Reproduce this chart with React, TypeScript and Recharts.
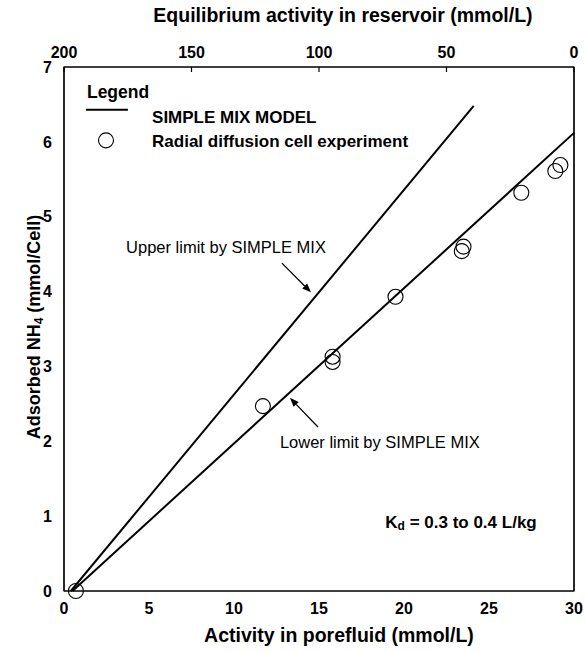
import React from "react";
import {
  ComposedChart,
  Line,
  Scatter,
  XAxis,
  YAxis,
  ReferenceLine,
  ReferenceDot,
  ReferenceArea,
  Label,
} from "recharts";

const FONT = '"Liberation Sans", Arial, Helvetica, sans-serif';

// experiment points (activity in porefluid vs adsorbed NH4)
const porefluid: number[] = [0.7, 11.7, 15.8, 15.8, 19.5, 23.4, 23.5, 26.9, 28.9, 29.2];
const adsorbed: number[] = [0, 2.47, 3.13, 3.06, 3.93, 4.54, 4.6, 5.32, 5.61, 5.69];

// SIMPLE MIX limits
const upperX: number[] = [0.4, 24.1];
const upperY: number[] = [0, 6.48];
const lowerX: number[] = [0.5, 30];
const lowerY: number[] = [0, 6.12];

const bottomTicks: number[] = [0, 5, 10, 15, 20, 25, 30];
const topTicks: number[] = [0, 50, 100, 150, 200];
const yTicks: number[] = [0, 1, 2, 3, 4, 5, 6, 7];

const points = porefluid.map((x, i) => ({ x, y: adsorbed[i] }));
const upper = upperX.map((x, i) => ({ x, y: upperY[i] }));
const lower = lowerX.map((x, i) => ({ x, y: lowerY[i] }));

const tickStyle = { fontFamily: FONT, fontSize: 16, fontWeight: 700, fill: "#000" };

const Ring = (p: any) => (
  <circle cx={p.cx} cy={p.cy} r={7.5} fill="none" stroke="#000" strokeWidth={1.1} />
);

const Nothing = () => null;

const Arrow = (p: any) => {
  const { x1, y1, x2, y2 } = p;
  const a = Math.atan2(y2 - y1, x2 - x1);
  const len = 9;
  const w = 3.5;
  const bx = x2 - len * Math.cos(a);
  const by = y2 - len * Math.sin(a);
  const pts = [
    `${x2},${y2}`,
    `${bx + w * Math.sin(a)},${by - w * Math.cos(a)}`,
    `${bx - w * Math.sin(a)},${by + w * Math.cos(a)}`,
  ].join(" ");
  return (
    <g>
      <line x1={x1} y1={y1} x2={bx} y2={by} stroke="#000" strokeWidth={1.3} />
      <polygon points={pts} fill="#000" />
    </g>
  );
};

const note = (value: React.ReactNode, size: number, bold: boolean) => (p: any) => (
  <text
    x={p.cx}
    y={p.cy}
    dominantBaseline="central"
    fontFamily={FONT}
    fontSize={size}
    fontWeight={bold ? 700 : 400}
    fill="#000"
  >
    {value}
  </text>
);

const Segment = (p: any) => (
  <line x1={p.x1} y1={p.y1} x2={p.x2} y2={p.y2} stroke="#000" strokeWidth={2} />
);

const App: React.FC = () => {
  return (
    <div style={{ position: "absolute", left: 0, top: 0, background: "#fff" }}>
      <ComposedChart width={585} height={652} margin={{ top: 0, right: 0, bottom: 0, left: 0 }}>
        <XAxis
          xAxisId="bottom"
          type="number"
          dataKey="x"
          domain={[0, 30]}
          ticks={bottomTicks}
          height={61}
          tickLine={false}
          tickSize={0}
          tickMargin={12}
          axisLine={{ stroke: "#000", strokeWidth: 1.2 }}
          tick={tickStyle}
          interval={0}
        >
          <Label
            content={(p: any) => (
              <text
                x={p.viewBox.x + p.viewBox.width / 2 + 20}
                y={642}
                textAnchor="middle"
                fontFamily={FONT}
                fontSize={19.5}
                fontWeight={700}
                fill="#000"
              >
                Activity in porefluid (mmol/L)
              </text>
            )}
          />
        </XAxis>
        <XAxis
          xAxisId="top"
          orientation="top"
          type="number"
          dataKey="x"
          domain={[0, 200]}
          allowDataOverflow
          reversed
          ticks={topTicks}
          height={67}
          tickSize={-5}
          tickMargin={14}
          tickLine={{ stroke: "#000", strokeWidth: 1.2 }}
          axisLine={{ stroke: "#000", strokeWidth: 1.2 }}
          tick={tickStyle}
          interval={0}
        >
          <Label
            content={(p: any) => (
              <text
                x={p.viewBox.x + p.viewBox.width / 2 + 24}
                y={22}
                textAnchor="middle"
                fontFamily={FONT}
                fontSize={19.5}
                fontWeight={700}
                fill="#000"
              >
                Equilibrium activity in reservoir (mmol/L)
              </text>
            )}
          />
        </XAxis>
        <YAxis
          yAxisId="left"
          type="number"
          domain={[0, 7]}
          ticks={yTicks}
          width={64}
          tickLine={false}
          tickSize={0}
          tickMargin={12}
          axisLine={{ stroke: "#000", strokeWidth: 1.2 }}
          tick={tickStyle}
          interval={0}
        >
          <Label
            content={(p: any) => {
              const cy = p.viewBox.y + p.viewBox.height / 2 - 2;
              return (
                <text
                  x={34}
                  y={cy}
                  transform={`rotate(-90, 34, ${cy})`}
                  textAnchor="middle"
                  dominantBaseline="central"
                  fontFamily={FONT}
                  fontSize={18}
                  fontWeight={700}
                  fill="#000"
                >
                  Adsorbed NH
                  <tspan fontSize={12} dy={5}>4</tspan>
                  <tspan dy={-5}>{"  (mmol/Cell)"}</tspan>
                </text>
              );
            }}
          />
        </YAxis>
        <YAxis
          yAxisId="right"
          orientation="right"
          type="number"
          domain={[0, 7]}
          allowDataOverflow
          width={11}
          tick={false}
          tickLine={false}
          axisLine={{ stroke: "#000", strokeWidth: 1.2 }}
        />

        {/* invisible series so the top and right axes get drawn */}
        <Scatter
          xAxisId="top"
          yAxisId="right"
          data={points}
          dataKey="y"
          shape={Nothing}
          legendType="none"
          isAnimationActive={false}
        />

        {/* plot frame */}
        <ReferenceArea
          xAxisId="bottom"
          yAxisId="left"
          x1={0}
          x2={30}
          y1={0}
          y2={7}
          fill="none"
          fillOpacity={0}
          stroke="#000"
          strokeWidth={1.2}
          ifOverflow="visible"
        />

        <Line
          xAxisId="bottom"
          yAxisId="left"
          data={upper}
          dataKey="y"
          type="linear"
          stroke="#000"
          strokeWidth={2}
          dot={false}
          isAnimationActive={false}
        />
        <Line
          xAxisId="bottom"
          yAxisId="left"
          data={lower}
          dataKey="y"
          type="linear"
          stroke="#000"
          strokeWidth={2}
          dot={false}
          isAnimationActive={false}
        />
        <Scatter
          xAxisId="bottom"
          yAxisId="left"
          data={points}
          dataKey="y"
          shape={Ring}
          isAnimationActive={false}
        />

        {/* legend box */}
        <ReferenceDot xAxisId="bottom" yAxisId="left" x={1.35} y={6.66} shape={note("Legend", 17.5, true)} />
        <ReferenceLine
          xAxisId="bottom"
          yAxisId="left"
          segment={[{ x: 1.29, y: 6.43 }, { x: 3.76, y: 6.43 }]}
          shape={Segment}
        />
        <ReferenceDot xAxisId="bottom" yAxisId="left" x={5.18} y={6.33} shape={note("SIMPLE MIX MODEL", 17, true)} />
        <ReferenceDot xAxisId="bottom" yAxisId="left" x={2.47} y={6.02} shape={Ring} />
        <ReferenceDot
          xAxisId="bottom"
          yAxisId="left"
          x={5.18}
          y={6.01}
          shape={note("Radial diffusion cell experiment", 17, true)}
        />

        {/* annotations */}
        <ReferenceDot
          xAxisId="bottom"
          yAxisId="left"
          x={3.65}
          y={4.6}
          shape={note("Upper limit by SIMPLE MIX", 16.5, false)}
        />
        <ReferenceLine
          xAxisId="bottom"
          yAxisId="left"
          segment={[{ x: 12.82, y: 4.38 }, { x: 14.53, y: 3.99 }]}
          shape={Arrow}
        />
        <ReferenceLine
          xAxisId="bottom"
          yAxisId="left"
          segment={[{ x: 14.94, y: 2.19 }, { x: 13.29, y: 2.58 }]}
          shape={Arrow}
        />
        <ReferenceDot
          xAxisId="bottom"
          yAxisId="left"
          x={12.7}
          y={1.99}
          shape={note("Lower limit by SIMPLE MIX", 16.5, false)}
        />
        <ReferenceDot
          xAxisId="bottom"
          yAxisId="left"
          x={18.9}
          y={0.92}
          shape={note(
            <>
              K<tspan fontSize={12} dy={4}>d</tspan>
              <tspan dy={-4}> = 0.3 to 0.4 L/kg</tspan>
            </>,
            17,
            true
          )}
        />
      </ComposedChart>
    </div>
  );
};

export default App;
